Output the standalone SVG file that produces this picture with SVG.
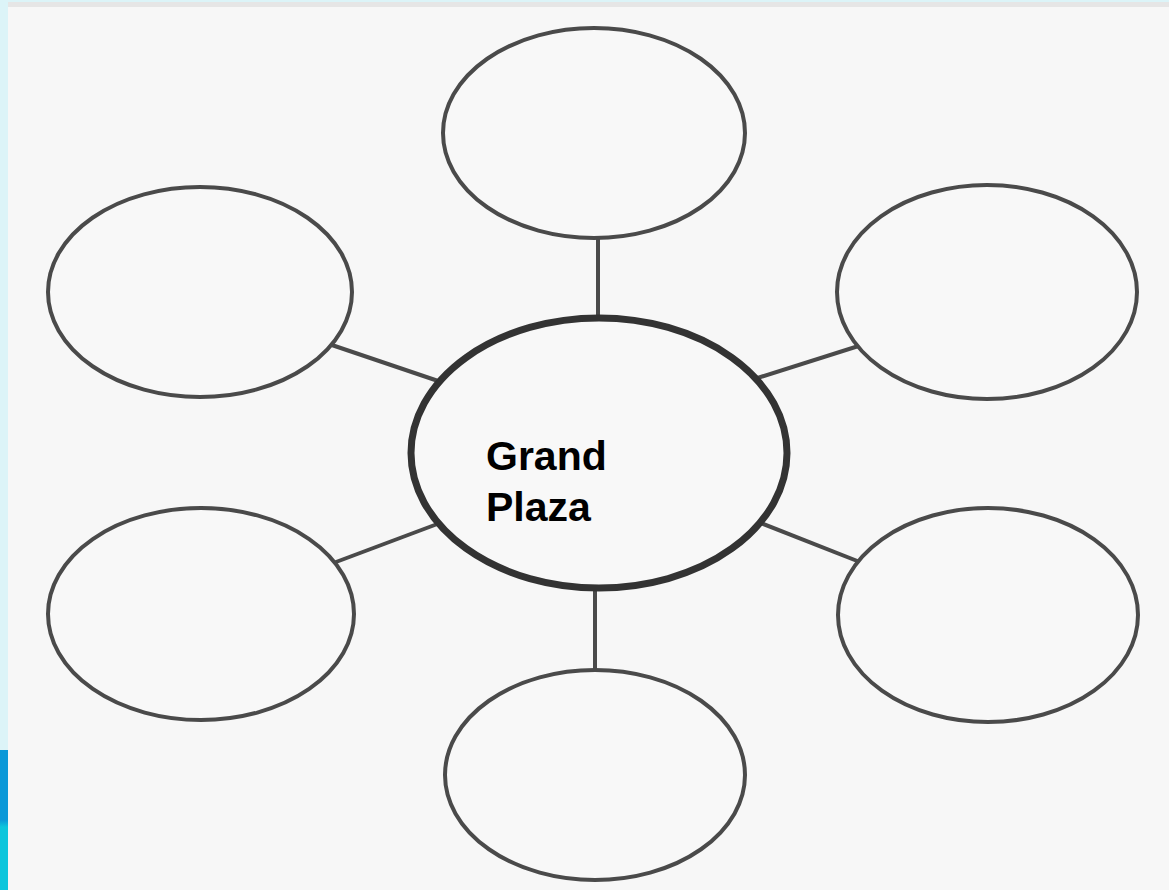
<svg xmlns="http://www.w3.org/2000/svg" width="1169" height="890" viewBox="0 0 1169 890">
  <defs>
    <linearGradient id="edge" x1="0" y1="0" x2="0" y2="1">
      <stop offset="0" stop-color="#0a98d8"/>
      <stop offset="0.5" stop-color="#0a98d8"/>
      <stop offset="0.55" stop-color="#0bc6dc"/>
      <stop offset="1" stop-color="#0bc6dc"/>
    </linearGradient>
  </defs>
  <style>
    .sat { fill: #f8f8f8; stroke: #4a4a4a; stroke-width: 4; }
    .hub { fill: #f8f8f8; stroke: #333333; stroke-width: 7; }
    .conn { stroke: #4a4a4a; stroke-width: 4; fill: none; }
    .label { font-family: "Liberation Sans", Arial, sans-serif; font-weight: bold; font-size: 41px; fill: #000000; }
  </style>
  <rect x="0" y="0" width="1169" height="890" fill="#f7f7f7"/>
  <rect x="0" y="0" width="1169" height="2" fill="#dcf4f8"/>
  <rect x="8" y="2" width="1161" height="5" fill="#e6e6e6"/>
  <rect x="0" y="0" width="8" height="750" fill="#dcf4f8"/>
  <rect x="0" y="750" width="8" height="140" fill="url(#edge)"/>

  <g id="connectors">
    <line class="conn" x1="598" y1="230" x2="598" y2="325"/>
    <line class="conn" x1="595" y1="580" x2="595" y2="678"/>
    <line class="conn" x1="320" y1="341" x2="450" y2="385"/>
    <line class="conn" x1="868" y1="343" x2="748" y2="381"/>
    <line class="conn" x1="320" y1="568" x2="448" y2="520"/>
    <line class="conn" x1="870" y1="566" x2="748" y2="518"/>
  </g>

  <g id="node-top"><ellipse class="sat" cx="594" cy="133" rx="151" ry="105"/></g>
  <g id="node-upper-left"><ellipse class="sat" cx="200" cy="292" rx="152" ry="105"/></g>
  <g id="node-upper-right"><ellipse class="sat" cx="987" cy="292" rx="150" ry="107"/></g>
  <g id="node-lower-left"><ellipse class="sat" cx="201" cy="614" rx="153" ry="106"/></g>
  <g id="node-lower-right"><ellipse class="sat" cx="988" cy="615" rx="150" ry="107"/></g>
  <g id="node-bottom"><ellipse class="sat" cx="595" cy="775" rx="150" ry="105"/></g>

  <g id="node-center">
    <ellipse class="hub" cx="599" cy="453" rx="188" ry="135"/>
    <text class="label" x="486" y="470">Grand</text>
    <text class="label" x="486" y="521">Plaza</text>
  </g>
</svg>
